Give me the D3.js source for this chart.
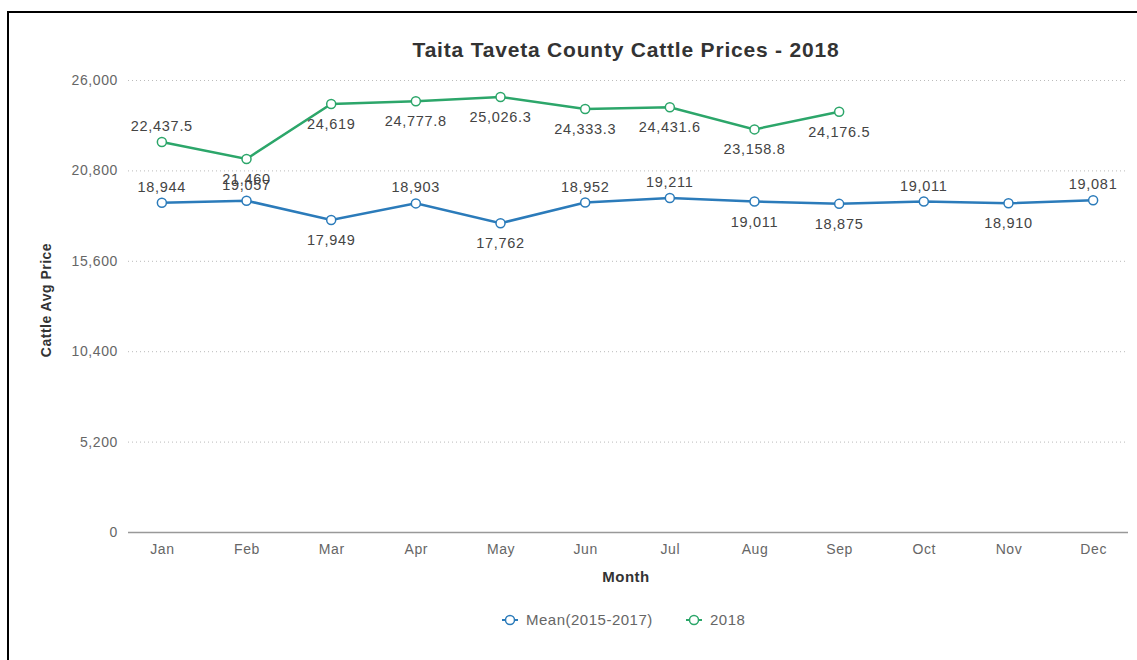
<!DOCTYPE html>
<html>
<head>
<meta charset="utf-8">
<script src="https://cdn.jsdelivr.net/npm/d3@7"></script>
<style>
  html, body { margin: 0; padding: 0; background: #fff; overflow: hidden; }
  #frame { position: absolute; left: 7px; top: 11px; width: 1200px; height: 700px; border: 2px solid #000; box-sizing: border-box; }
  svg { position: absolute; left: 0; top: 0; font-family: "Liberation Sans", Arial, sans-serif; }
</style>
</head>
<body>
<div id="frame"></div>
<div id="chart"></div>
<script>
// Taita Taveta cattle prices: 2015-2017 mean vs 2018 by month.
const months = ['Jan', 'Feb', 'Mar', 'Apr', 'May', 'Jun', 'Jul', 'Aug', 'Sep', 'Oct', 'Nov', 'Dec'];
const meanValues = [18944, 19057, 17949, 18903, 17762, 18952, 19211, 19011, 18875, 19011, 18910, 19081];
const values2018 = [22437.5, 21460, 24619, 24777.8, 25026.3, 24333.3, 24431.6, 23158.8, 24176.5];
const yTicks = [0, 5200, 10400, 15600, 20800, 26000];
// which side of the point each value label sits on
const meanLabelSide = ['up', 'up', 'down', 'up', 'down', 'up', 'up', 'down', 'down', 'up', 'down', 'up'];
const labelSide2018 = ['up', 'down', 'down', 'down', 'down', 'down', 'down', 'down', 'down'];

const series = [
  { name: 'Mean(2015-2017)', values: meanValues, sides: meanLabelSide, color: '#2b7bba' },
  { name: '2018', values: values2018, sides: labelSide2018, color: '#2ca66a' }
];

const width = 1137, height = 660;
const svg = d3.select('#chart').append('svg').attr('width', width).attr('height', height);

const x = d3.scalePoint().domain(months).range([128, 1127]).padding(0.4);
const y = d3.scaleLinear().domain([0, 26000]).range([532, 80]);
const fmt = d3.format(',');

// Dotted horizontal gridlines, labels on the left.
const yAxis = svg.append('g')
  .attr('transform', 'translate(128,0)')
  .call(d3.axisLeft(y).tickValues(yTicks).tickSize(-1000).tickFormat(d3.format(',')));
yAxis.select('.domain').remove();
yAxis.selectAll('.tick line')
  .attr('stroke', d => d === 0 ? '#999' : '#bbb')
  .attr('stroke-width', d => d === 0 ? 1.5 : 1)
  .attr('stroke-dasharray', d => d === 0 ? null : '1,3');
yAxis.selectAll('.tick text').attr('x', -10).attr('fill', '#666')
  .style('font-size', '14px').style('letter-spacing', '0.6px');

const xAxis = svg.append('g')
  .attr('transform', 'translate(0,532)')
  .call(d3.axisBottom(x).tickSize(0).tickPadding(12));
xAxis.select('.domain').remove();
xAxis.selectAll('.tick text').attr('fill', '#666')
  .style('font-size', '14px').style('letter-spacing', '0.6px');

// Title and axis titles.
svg.append('text').attr('x', 626).attr('y', 57).attr('text-anchor', 'middle')
  .attr('fill', '#333').style('font-size', '21px').style('font-weight', 'bold').style('letter-spacing', '0.8px')
  .text('Taita Taveta County Cattle Prices - 2018');
svg.append('text').attr('x', 626).attr('y', 582).attr('text-anchor', 'middle')
  .attr('fill', '#333').style('font-size', '15px').style('font-weight', 'bold').style('letter-spacing', '0.5px')
  .text('Month');
svg.append('text').attr('transform', 'translate(51,300) rotate(-90)').attr('text-anchor', 'middle')
  .attr('fill', '#333').style('font-size', '14px').style('font-weight', 'bold').style('letter-spacing', '0.5px')
  .text('Cattle Avg Price');

const line = d3.line().x((d, i) => x(months[i])).y(d => y(d));

series.forEach(s => {
  const g = svg.append('g');
  g.append('path').datum(s.values).attr('d', line)
    .attr('fill', 'none').attr('stroke', s.color).attr('stroke-width', 2.5);
  g.selectAll('circle').data(s.values).enter().append('circle')
    .attr('cx', (d, i) => x(months[i])).attr('cy', d => y(d)).attr('r', 4.5)
    .attr('fill', '#fff').attr('stroke', s.color).attr('stroke-width', 1.5);
  g.selectAll('text').data(s.values).enter().append('text')
    .attr('x', (d, i) => x(months[i]))
    .attr('y', (d, i) => y(d) + (s.sides[i] === 'up' ? -11 : 25))
    .attr('text-anchor', 'middle').attr('fill', '#444')
    .style('font-size', '14.5px').style('letter-spacing', '0.7px')
    .text(d => fmt(d));
});

// Legend under the chart.
const legend = svg.append('g').attr('transform', 'translate(0,620)');
const legendX = [510, 694];
series.forEach((s, i) => {
  const item = legend.append('g').attr('transform', `translate(${legendX[i]},0)`);
  item.append('line').attr('x1', -8).attr('x2', 8).attr('stroke', s.color).attr('stroke-width', 2);
  item.append('circle').attr('r', 4.5).attr('fill', '#fff').attr('stroke', s.color).attr('stroke-width', 1.5);
  item.append('text').attr('x', 16).attr('y', 5).attr('fill', '#666')
    .style('font-size', '15px').style('letter-spacing', '0.5px').text(s.name);
});
</script>
</body>
</html>
